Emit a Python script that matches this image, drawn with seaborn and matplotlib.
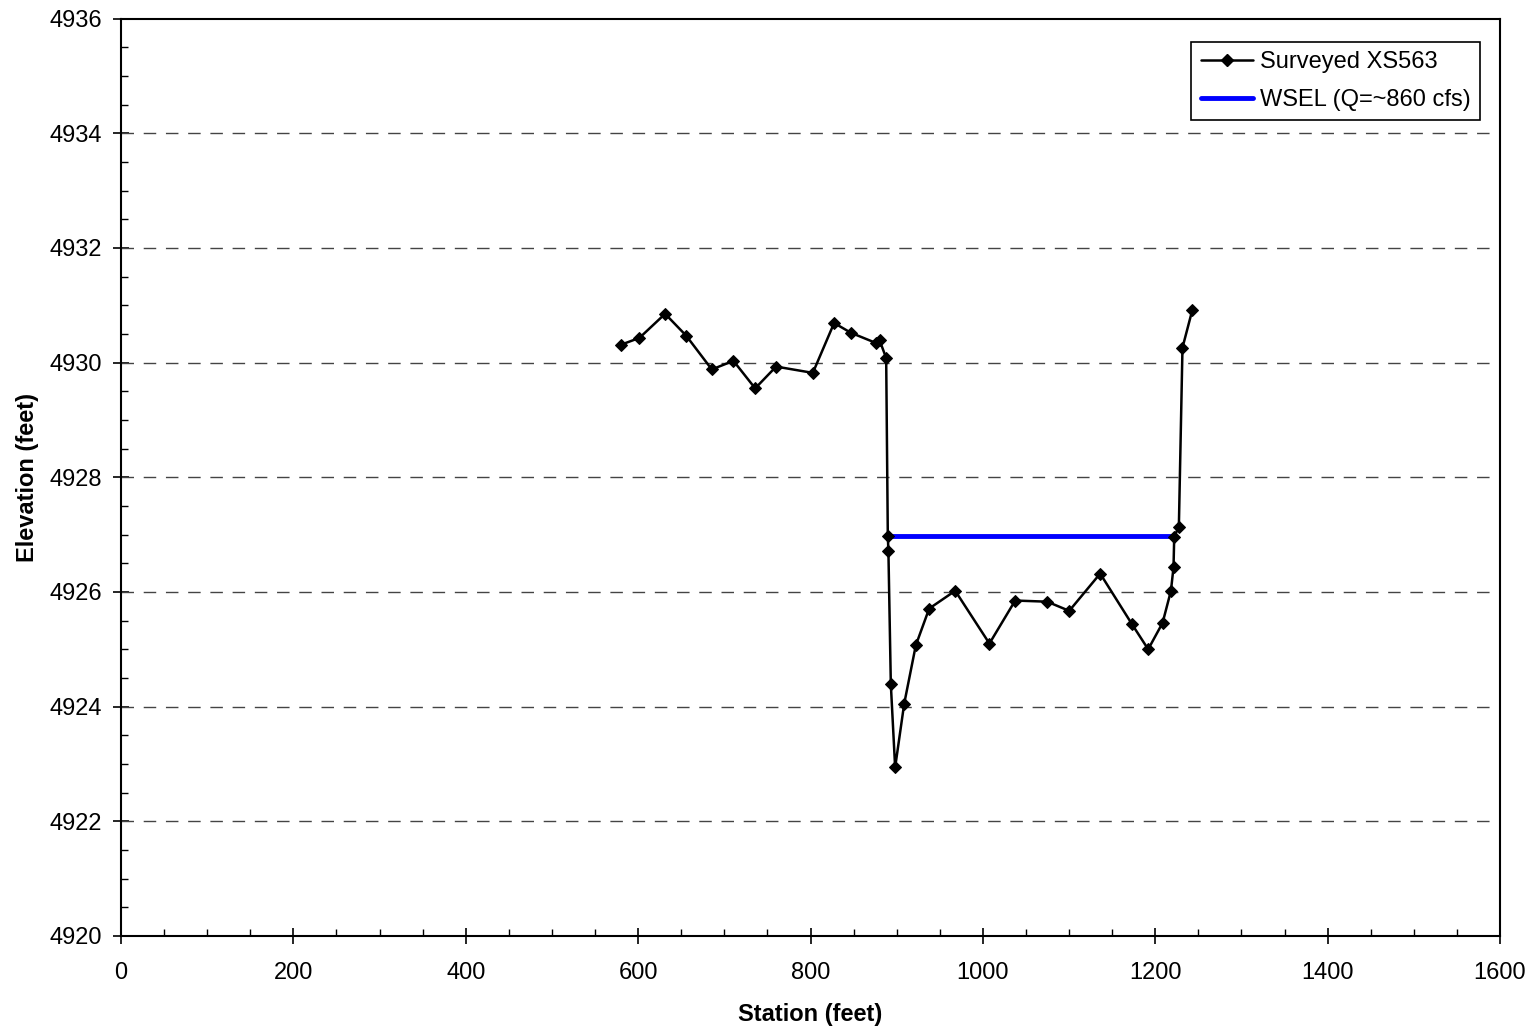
import matplotlib
matplotlib.use("Agg")
import matplotlib.pyplot as plt
from matplotlib.ticker import MultipleLocator, FormatStrFormatter
from matplotlib.lines import Line2D
import seaborn as sns
import pandas as pd

# Surveyed cross-section XS563 (station, elevation in feet)
station = [579.9, 601.5, 631.3, 655.7, 685.5, 710.6, 735.8, 760.1, 802.7, 827.4,
           846.8, 876.2, 880.1, 887.8, 889.7, 890.4, 893.2, 898.2, 908.7, 922.2,
           937.7, 967.9, 1007.6, 1037.5, 1074.7, 1100.2, 1136.1, 1172.9, 1191.8,
           1208.5, 1218.2, 1221.2, 1222.0, 1227.4, 1231.6, 1242.9]
elevation = [4930.31, 4930.43, 4930.85, 4930.47, 4929.88, 4930.03, 4929.55, 4929.93,
             4929.82, 4930.69, 4930.52, 4930.34, 4930.39, 4930.08, 4926.98, 4926.71,
             4924.39, 4922.94, 4924.05, 4925.07, 4925.71, 4926.02, 4925.10, 4925.85,
             4925.83, 4925.67, 4926.32, 4925.44, 4925.00, 4925.46, 4926.02, 4926.43,
             4926.96, 4927.14, 4930.26, 4930.91]

# Water surface elevation at Q = ~860 cfs
wsel_station = [889.7, 1222.0]
wsel_elev = [4926.97, 4926.97]

xs_label = "Surveyed XS563"
wsel_label = "WSEL (Q=~860 cfs)"

sns.set_theme(style="white")
plt.rcParams["font.family"] = ["Liberation Sans", "DejaVu Sans"]
plt.rcParams["text.color"] = "black"
plt.rcParams["axes.labelcolor"] = "black"

xs = pd.DataFrame({"Station": station, "Elevation": elevation})
ws = pd.DataFrame({"Station": wsel_station, "Elevation": wsel_elev})

fig = plt.figure(figsize=(15.37, 10.27), dpi=100)
ax = fig.add_axes([121 / 1537, 1 - 936 / 1027, 1379 / 1537, (936 - 18.5) / 1027])

sns.lineplot(data=xs, x="Station", y="Elevation", sort=False, ax=ax,
             color="black", linewidth=1.8, marker="D", markersize=6,
             markeredgecolor="black", markerfacecolor="black", zorder=3)
sns.lineplot(data=ws, x="Station", y="Elevation", sort=False, ax=ax,
             color="#0000ff", linewidth=3.5, zorder=2)

ax.set_xlim(0, 1600)
ax.set_ylim(4920, 4936)
ax.xaxis.set_major_locator(MultipleLocator(200))
ax.xaxis.set_minor_locator(MultipleLocator(50))
ax.yaxis.set_major_locator(MultipleLocator(2))
ax.yaxis.set_minor_locator(MultipleLocator(0.5))
ax.yaxis.set_major_formatter(FormatStrFormatter("%d"))

ax.tick_params(which="major", direction="inout", length=11, width=1.2,
               labelsize=17, colors="black", labelcolor="black")
ax.tick_params(which="minor", direction="in", length=5, width=1.0, colors="black")
ax.tick_params(axis="x", which="both", bottom=True, top=False)
ax.tick_params(axis="x", which="major", pad=13)
ax.tick_params(axis="y", which="both", left=True, right=False)
ax.tick_params(axis="y", which="major", pad=8)

for s in ax.spines.values():
    s.set_color("black")
    s.set_linewidth(1.5)

# Dashed horizontal gridlines at interior major elevations
for yv in range(4922, 4936, 2):
    ax.axhline(yv, color="#444444", linewidth=1.0, dashes=(9, 7), zorder=1)

ax.set_xlabel("Station (feet)", fontsize=17, fontweight="bold", labelpad=14)
ax.set_ylabel("Elevation (feet)", fontsize=17, fontweight="bold", labelpad=8)

handles = [
    Line2D([0, 0.5, 1], [0, 0, 0], color="black", linewidth=1.8, marker="D",
           markersize=6, markevery=[1], markerfacecolor="black"),
    Line2D([0], [0], color="#0000ff", linewidth=3.5),
]
leg = ax.legend(handles, [xs_label, wsel_label], loc="upper right",
                bbox_to_anchor=(0.9855, 0.9744), fontsize=17, frameon=True,
                fancybox=False, edgecolor="black", framealpha=1,
                handlelength=2.2, handletextpad=0.3, borderpad=0.4,
                labelspacing=0.66, borderaxespad=0)
leg.get_frame().set_linewidth(1.2)
for t in leg.get_texts():
    t.set_color("black")

fig.savefig("out.png", dpi=100)
